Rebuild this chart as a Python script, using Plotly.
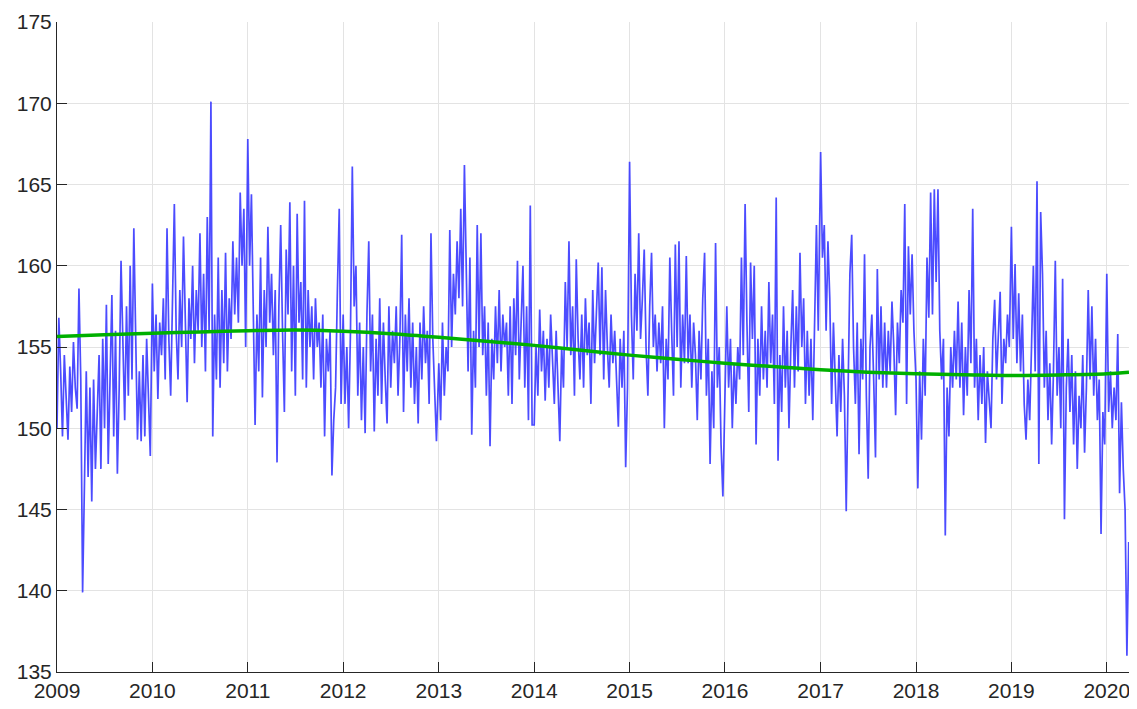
import pandas as pd
import plotly.graph_objects as go

# weekly readings, one list per calendar year (first value = 1 Jan)
y2009 = [150.0, 156.8, 153.5, 149.5, 154.5, 152.0, 149.3, 153.8, 151.0, 155.3,
         152.5, 151.2, 158.6, 153.0, 139.9, 146.5, 153.5, 147.0, 152.5, 145.5,
         153.0, 147.5, 151.0, 154.5, 147.5, 155.5, 150.0, 157.6, 147.8, 153.5,
         158.2, 149.5, 156.0, 147.2, 152.5, 160.3, 154.5, 150.5, 157.5, 152.0,
         160.0, 153.0, 162.3, 156.0, 149.3, 153.5, 149.2, 154.5, 149.5, 155.5,
         152.0, 148.3]
y2010 = [158.9, 153.5, 157.0, 151.8, 156.5, 154.5, 158.0, 153.0, 162.3, 155.5,
         152.0, 157.5, 163.8, 156.0, 153.0, 158.5, 155.0, 161.8, 157.5, 151.6,
         158.0, 155.5, 160.0, 154.0, 158.5, 156.0, 162.0, 155.0, 159.5, 153.5,
         163.0, 156.0, 170.1, 149.5, 157.0, 153.0, 160.5, 152.5, 158.5, 154.0,
         160.8, 153.5, 158.0, 155.5, 161.5, 157.0, 160.5, 156.5, 164.5, 160.0,
         163.5, 155.0]
y2011 = [167.8, 160.0, 164.4, 155.5, 150.2, 157.0, 153.5, 160.5, 151.9, 158.5,
         155.0, 162.4, 156.5, 159.5, 154.5, 158.5, 147.9, 157.5, 162.5, 156.0,
         151.0, 161.0, 157.0, 163.9, 153.5, 160.0, 152.0, 163.2, 156.5, 159.0,
         153.0, 164.0, 152.5, 158.5, 155.0, 157.5, 153.0, 158.0, 155.0, 156.5,
         152.5, 157.0, 149.5, 155.5, 153.5, 156.0, 147.1, 150.5, 152.5, 158.5,
         163.5, 151.5]
y2012 = [157.0, 151.5, 155.0, 150.0, 156.0, 166.1, 157.5, 160.0, 152.0, 156.5,
         150.5, 155.0, 149.7, 157.0, 161.5, 153.5, 157.0, 149.8, 155.5, 152.0,
         158.0, 151.5, 156.5, 153.0, 150.3, 157.5, 152.5, 156.0, 154.0, 157.5,
         152.0, 155.5, 161.9, 151.0, 157.0, 153.5, 158.0, 152.5, 156.5, 151.5,
         155.0, 150.3, 156.5, 153.0, 157.5, 154.0, 156.0, 151.5, 162.0, 155.5,
         152.0, 149.2]
y2013 = [154.0, 150.5, 156.5, 152.0, 155.0, 153.5, 162.2, 155.0, 159.5, 157.0,
         161.5, 158.0, 163.5, 157.5, 166.2, 159.0, 153.5, 160.5, 149.6, 156.0,
         152.5, 162.5, 155.0, 162.0, 154.5, 157.5, 152.0, 156.5, 148.9, 155.5,
         153.0, 157.5, 154.0, 158.5, 153.5, 157.0, 155.0, 156.5, 152.0, 157.5,
         151.5, 158.0, 154.5, 160.3, 153.0, 156.5, 160.0, 152.5, 157.5, 150.5,
         163.7, 150.2]
y2014 = [150.2, 155.0, 152.0, 157.3, 153.5, 156.0, 151.7, 155.5, 152.5, 157.0,
         154.0, 151.5, 156.0, 153.0, 149.2, 155.0, 152.5, 159.0, 155.0, 161.5,
         154.5, 157.5, 152.0, 160.4, 155.5, 153.0, 157.0, 152.5, 158.0, 154.5,
         156.5, 151.5, 158.5, 154.0, 157.0, 160.2, 154.5, 159.9, 153.0, 158.5,
         155.0, 152.5, 157.0, 154.0, 156.0, 152.5, 150.1, 155.5, 152.5, 156.0,
         147.6, 152.5]
y2015 = [166.4, 157.0, 153.0, 159.5, 156.0, 162.0, 155.5, 158.0, 161.0, 155.0,
         152.0, 157.5, 160.8, 155.0, 157.0, 153.5, 156.5, 154.0, 157.5, 150.0,
         155.5, 153.0, 160.5, 156.0, 152.0, 161.3, 155.0, 161.5, 152.5, 157.0,
         154.0, 160.6, 154.0, 157.0, 152.5, 156.5, 154.5, 150.5, 156.0, 153.0,
         158.0, 160.8, 152.0, 155.5, 147.8, 153.5, 150.0, 161.4, 152.5, 155.0,
         149.0, 145.8]
y2016 = [153.5, 157.5, 152.5, 155.5, 150.0, 154.0, 151.5, 155.0, 153.0, 160.5,
         154.5, 163.8, 156.5, 151.0, 160.2, 155.5, 160.0, 149.0, 155.5, 152.0,
         157.5, 153.0, 156.0, 152.5, 159.0, 154.0, 157.0, 151.5, 164.2, 148.0,
         154.5, 151.0, 157.5, 152.5, 156.0, 150.0, 155.0, 158.5, 152.5, 157.5,
         153.5, 160.8, 155.0, 158.0, 151.5, 156.0, 152.0, 155.5, 150.5, 157.5,
         162.5, 156.0]
y2017 = [167.0, 160.5, 162.5, 156.0, 161.5, 158.0, 151.5, 156.5, 153.0, 149.5,
         154.5, 151.0, 155.5, 152.0, 144.9, 152.0, 159.5, 161.9, 155.0, 151.5,
         156.5, 148.4, 155.5, 153.0, 160.7, 152.0, 146.9, 155.0, 157.0, 153.0,
         148.2, 159.8, 153.0, 157.5, 152.5, 156.5, 152.5, 156.0, 153.5, 157.8,
         155.0, 150.8, 156.5, 154.0, 158.5, 156.5, 163.8, 151.5, 161.2, 157.0,
         160.7, 156.0]
y2018 = [153.0, 146.3, 153.5, 149.3, 155.5, 152.0, 160.5, 156.8, 164.5, 157.0,
         164.7, 159.0, 164.7, 156.0, 153.0, 155.5, 143.4, 152.5, 149.5, 155.0,
         152.5, 156.0, 153.0, 157.8, 152.5, 156.5, 150.8, 155.0, 152.0, 158.5,
         154.0, 163.5, 152.5, 155.5, 150.5, 154.5, 151.5, 155.0, 149.1, 153.5,
         152.0, 150.0, 155.5, 157.9, 153.0, 156.0, 158.4, 151.5, 155.5, 154.0,
         157.0, 155.0]
y2019 = [162.4, 155.5, 160.1, 154.0, 158.3, 153.5, 157.0, 151.5, 149.3, 153.0,
         150.5, 155.0, 160.0, 153.5, 165.2, 147.8, 163.3, 159.5, 152.5, 156.0,
         150.5, 154.0, 149.0, 153.5, 160.3, 152.0, 155.0, 150.0, 159.2, 144.4,
         152.5, 155.5, 151.0, 154.5, 149.0, 153.5, 147.5, 152.0, 150.0, 154.5,
         148.5, 152.5, 158.5, 153.0, 157.5, 152.0, 155.5, 150.5, 153.0, 143.5,
         151.0, 149.0]
y2020 = [159.5, 151.0, 153.5, 150.0, 152.5, 150.5, 155.8, 146.0, 151.6, 147.5,
         145.0, 136.0, 143.0]

years = {2009: y2009, 2010: y2010, 2011: y2011, 2012: y2012, 2013: y2013,
         2014: y2014, 2015: y2015, 2016: y2016, 2017: y2017, 2018: y2018,
         2019: y2019, 2020: y2020}

# smooth trend, read at 1 Jan / 1 Jul
trend_dates = ["2009-01-01", "2009-07-01", "2010-01-01", "2010-07-01", "2011-01-01",
               "2011-07-01", "2012-01-01", "2012-07-01", "2013-01-01", "2013-07-01",
               "2014-01-01", "2014-07-01", "2015-01-01", "2015-07-01", "2016-01-01",
               "2016-07-01", "2017-01-01", "2017-07-01", "2018-01-01", "2018-07-01",
               "2019-01-01", "2019-07-01", "2020-01-01", "2020-03-26"]
trend_vals = [155.65, 155.75, 155.85, 155.93, 156.0, 156.05, 155.97, 155.82, 155.6,
              155.35, 155.1, 154.8, 154.5, 154.25, 154.0, 153.8, 153.6, 153.45,
              153.35, 153.3, 153.25, 153.28, 153.35, 153.45]

dates, vals = [], []
for yr, v in years.items():
    dates += list(pd.date_range(f"{yr}-01-01", periods=len(v), freq="7D"))
    vals += v

fig = go.Figure()
fig.add_trace(go.Scatter(x=dates, y=vals, mode="lines",
                         line=dict(color="rgba(45,45,255,0.85)", width=1.7)))
fig.add_trace(go.Scatter(x=pd.to_datetime(trend_dates), y=trend_vals, mode="lines",
                         line=dict(color="#00b000", width=3.5, shape="spline")))

axis_font = dict(family="Arial, Liberation Sans, sans-serif", size=21, color="#262626")
# the page body has an 8px margin, so the figure is 8px smaller than the window
fig.update_layout(
    width=1129, height=701,
    margin=dict(l=49, r=8, t=14, b=37),
    paper_bgcolor="white", plot_bgcolor="white",
    showlegend=False,
    xaxis=dict(range=["2009-01-01", "2020-03-26"], tick0="2009-01-01", dtick="M12",
               tickformat="%Y", ticks="inside", ticklen=10, tickcolor="#262626",
               showgrid=True, gridcolor="#e3e3e3", gridwidth=1,
               showline=True, linecolor="#262626", linewidth=1,
               zeroline=False, tickfont=axis_font, automargin=False),
    yaxis=dict(range=[135, 175], dtick=5, ticks="inside", ticklen=10,
               tickcolor="#262626", showgrid=True, gridcolor="#e3e3e3", gridwidth=1,
               showline=True, linecolor="#262626", linewidth=1,
               zeroline=False, tickfont=axis_font, automargin=False),
)

fig.write_html("out.html")
